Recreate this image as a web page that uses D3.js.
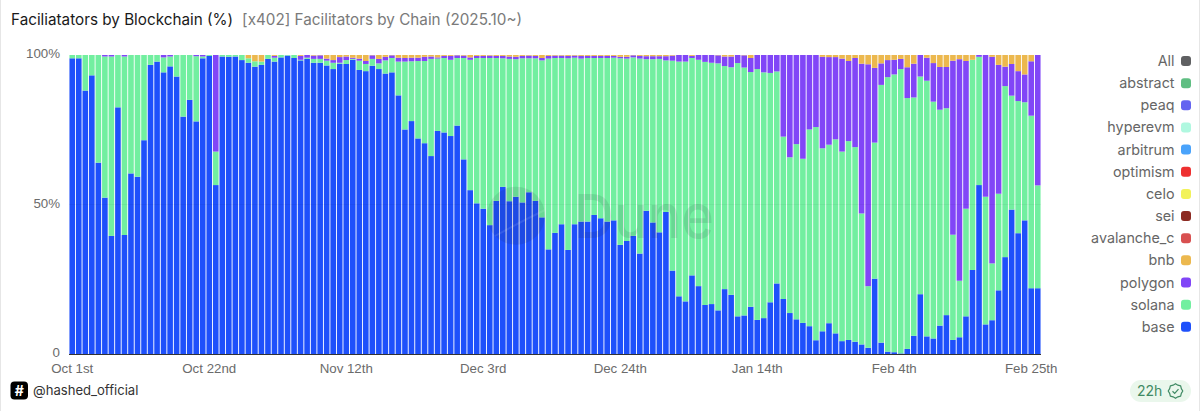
<!DOCTYPE html>
<html><head><meta charset="utf-8">
<script src="https://cdnjs.cloudflare.com/ajax/libs/d3/7.8.5/d3.min.js"></script>
<style>
html,body{margin:0;padding:0;background:#fff;overflow:hidden}
svg{display:block}
text{font-family:Inter,"Liberation Sans",sans-serif}
.axis text{font-family:"Liberation Sans",Arial,sans-serif;font-size:13.3px;fill:#6b6b6b}
</style></head><body><svg id="c" width="1200" height="411"></svg>
<script>
const base=[98.9,98.9,88.1,93.2,64,52.3,39.5,82.5,39.8,60.4,59.3,71.5,96.7,97.8,94.2,96.2,92.8,79.4,85,77.8,98.9,99.7,56.5,99.5,99.4,99.5,98.3,97.4,96.1,96.7,98.7,97.8,99.2,99.8,99,98.2,98.7,
97.4,97.4,96.5,95.3,97.1,97,98.4,95,94.6,96.4,95.3,93.8,94.2,86.5,75.1,77.9,72.1,70.5,66.2,74.6,74.1,72.9,76.4,65.1,54.8,50.4,48.6,43.1,51.2,55.9,51.1,52.6,50.7,54.1,51.2,45.7,35,40.5,
43.4,34.8,43.4,44.3,44.3,46.5,45.4,44.3,44.7,36.5,37.8,39.5,33.6,47.9,44,40.7,47.5,27.9,19.3,17.6,26.3,22.7,16.4,16.7,14.6,21.7,19.8,12.6,12.9,15.8,11.4,12,17.3,23.6,18.4,13.7,11.6,
10.4,9.3,4.6,7.6,10.3,6.9,4.3,4.7,4.1,3.2,2.1,25.2,3.8,0.8,0.6,0.2,1.7,6.1,20,5.9,5.2,9.5,13,4.7,5.6,12.6,28.1,56.5,9.9,11.3,21.3,32.4,48.3,40.4,44.7,22,22];
const solanaTop=[100,100,100,100,100,99.5,99.5,100,99.5,100,100,100,100,100,99.2,99.5,100,100,100,99.6,99.5,100,67.7,100,100,100,100,98.9,97.9,97.8,100,99.1,100,100,100,98.4,99.1,
98.7,98.7,98.1,97.4,97.4,98.3,98.7,98.1,97,98.7,97.2,98.2,99,97.8,97.8,97.9,98,98,98.7,98.8,99,98.4,99,99,98.4,99,99,99,99,98.9,98.7,98.6,98.9,98.9,98.9,98.2,98.8,99,
99,98.9,99.1,98.8,99,99,99,99,99.1,98.9,98.8,99.2,98.8,98.6,98.6,98.7,98.2,98.1,97.8,97.8,99,98.4,97.7,97.4,97.2,96.3,95.9,97.3,95.8,94.3,95.3,94.2,94,94.5,72.7,65.8,70.2,
65.3,75.1,75.9,68.8,70,71.8,67.7,71.2,69.2,47,22.7,70.7,90,92.6,93.5,95.3,85.6,85.8,92.8,91.4,84.4,81.7,82.2,39.9,24.5,48.6,98.4,99.4,52.6,30.3,53.6,89.6,86.4,84.6,84.2,79.7,56.4];
const polygonTop=[100,100,100,100,100,100,100,100,100,100,100,100,100,100,100,100,100,100,100,100,100,100,100,100,100,100,100,98.9,97.9,97.8,100,99.7,100,100,100,99.7,100,
99.8,99.9,98.8,98.3,99.3,99.5,99.1,98.8,98,99.9,98.7,99.4,99.9,99.1,99,99.1,99.1,99.4,99.5,99.2,99.7,99.7,99.9,99.8,99.2,99.7,99.7,99.8,99.7,99.7,99.5,99.4,99.7,99.8,99.7,99,99.7,99.8,
99.8,99.7,99.8,99.7,99.7,99.7,99.7,99.7,99.7,99.4,99.4,99.9,99.7,99.6,99.6,99.6,99.6,99.8,100,100,99.7,100,100,100,99.9,99.5,99.5,100,99.9,99,100,100,100,100,100,100,100,
100,100,100,99.4,99.3,99.3,98.8,98,99,97.1,96.9,95.7,97.2,98.3,98.4,98.7,95.9,97.1,100,99.1,97.3,96,96,98.1,98.6,98,98.4,100,100,99.4,96.7,96.1,97,94.6,93.5,97.9,100];
const tickLabels=["Oct 1st","Oct 22nd","Nov 12th","Dec 3rd","Dec 24th","Jan 14th","Feb 4th","Feb 25th"];
const yTicks=[0,50,100];
const legendNames=["All","abstract","peaq","hyperevm","arbitrum","optimism","celo","sei","avalanche_c","bnb","polygon","solana","base"];
const legendColors=["#5f6062","#5fbe82","#6464f0","#b0f8e0","#4aa3fb","#ee3030","#f2f25a","#8c2a22","#d85050","#ecb84e","#8146f7","#72efa0","#1e50fb"];
const seriesKeys=["base","solana","polygon","bnb"];
const seriesColors={base:"#1e50fb",solana:"#72efa0",polygon:"#8146f7",bnb:"#ecb84e"};
const rows=base.map((b,i)=>({i,base:b,solana:solanaTop[i]-b,polygon:polygonTop[i]-solanaTop[i],bnb:100-polygonTop[i]}));
const svg=d3.select("#c");
svg.append("rect").attr("x",0.5).attr("y",-8).attr("width",1199).attr("height",430).attr("rx",8).attr("fill","none").attr("stroke","#e6e6e6");
const x=d3.scaleBand().domain(rows.map(d=>d.i)).range([69,1041]).paddingInner(0.14).paddingOuter(0.07);
const y=d3.scaleLinear().domain([0,100]).range([354,55]);
const stack=d3.stack().keys(seriesKeys)(rows);
svg.append("g").selectAll("g").data(stack).join("g").attr("fill",s=>seriesColors[s.key])
 .selectAll("rect").data(s=>s).join("rect")
 .attr("x",d=>x(d.data.i)).attr("width",x.bandwidth())
 .attr("y",d=>y(d[1])).attr("height",d=>Math.max(0,y(d[0])-y(d[1])));
svg.append("line").attr("x1",69).attr("x2",1041).attr("y1",y(50)).attr("y2",y(50)).attr("stroke","#000").attr("stroke-opacity",0.04);
// watermark
const wm=svg.append("g").attr("opacity",0.1);
wm.append("circle").attr("cx",516).attr("cy",215.7).attr("r",29).attr("fill","#1a1a2a");
wm.append("text").attr("x",574).attr("y",238).attr("font-size",61).attr("font-weight",500).attr("fill","#1a1a2a").attr("textLength",140).attr("lengthAdjust","spacingAndGlyphs").text("Dune");
svg.append("path").attr("d","M495,236Q520,222 545,210").attr("fill","none").attr("stroke","#fff").attr("stroke-opacity",0.1).attr("stroke-width",2);
// axes
const xa=d3.axisBottom(x).tickValues(tickLabels.map((_,k)=>k*21)).tickFormat((d)=>tickLabels[d/21]).tickSize(0).tickPadding(10);
const gx=svg.append("g").attr("class","axis").attr("transform","translate(0,354)").call(xa);
gx.select(".domain").attr("stroke","#333").attr("stroke-width",1).attr("d","M69,0.5H1041");
const ya=d3.axisLeft(y).tickValues(yTicks).tickFormat(d=>d===0?"0":d+"%").tickSize(0).tickPadding(9);
const gy=svg.append("g").attr("class","axis").attr("transform","translate(69,-1.5)").call(ya);
gy.select(".domain").remove();
// titles
const t=svg.append("text").attr("x",11).attr("y",25).attr("font-size",15.25);
t.append("tspan").attr("fill","#1a1a1a").text("Faciliatators by Blockchain (%)");
t.append("tspan").attr("dx",9).attr("fill","#7a7a7a").text("[x402] Facilitators by Chain (2025.10~)");
// legend
const lg=svg.append("g").selectAll("g").data(legendNames).join("g").attr("transform",(d,i)=>`translate(0,${61+i*22.15})`);
lg.append("text").attr("x",1174.5).attr("y",5).attr("text-anchor","end").attr("font-size",14.3).attr("fill","#666").text(d=>d);
lg.append("rect").attr("x",1181).attr("y",-5).attr("width",10).attr("height",10).attr("rx",3).attr("fill",(d,i)=>legendColors[i]);
// handle
svg.append("rect").attr("x",10.5).attr("y",381.5).attr("width",17.5).attr("height",18).attr("rx",4).attr("fill","#000");
svg.append("text").attr("x",19.2).attr("y",395.5).attr("text-anchor","middle").attr("font-size",14).attr("font-weight",700).attr("fill","#fff").text("#");
svg.append("text").attr("x",33).attr("y",395).attr("font-size",13.1).attr("fill","#333").text("@hashed_official");
// badge
svg.append("rect").attr("x",1130).attr("y",380).attr("width",61).attr("height",22).attr("rx",11).attr("fill","#eaf7ec");
svg.append("text").attr("x",1137).attr("y",396).attr("font-size",14).attr("fill","#3f8a63").text("22h");
const ic=svg.append("g").attr("transform","translate(1175.5,391)").attr("fill","none").attr("stroke","#3f8a63").attr("stroke-width",1.2);
ic.append("path").attr("d",d3.range(17).map(k=>{const a=k/16*2*Math.PI,r=k%2?6.3:7.3;return (k?"L":"M")+(r*Math.sin(a)).toFixed(2)+","+(r*Math.cos(a)).toFixed(2)}).join("")+"Z").attr("stroke-linejoin","round");
ic.append("path").attr("d","M-3,0.3L-0.8,2.4L3,-1.8");
</script></body></html>
